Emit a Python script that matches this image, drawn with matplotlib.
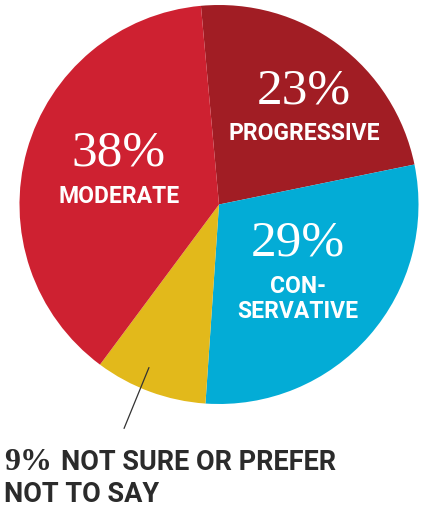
import matplotlib
matplotlib.use("Agg")
import matplotlib.pyplot as plt

# survey shares (clockwise from the top)
groups = ["PROGRESSIVE", "CON-\nSERVATIVE", "NOT SURE OR PREFER\nNOT TO SAY", "MODERATE"]
shares = [23, 29, 9, 38]
colors = ["#A11D24", "#03ACD6", "#E2B91B", "#CE2131"]

W, H = 421, 508
cx, cy, r = 219, 204.5, 200  # pie centre / radius in pixels

fig = plt.figure(figsize=(W / 100, H / 100), dpi=100)
ax = fig.add_axes([(cx - r) / W, 1 - (cy + r) / H, 2 * r / W, 2 * r / H])

ax.pie(shares, colors=colors, startangle=95.2, counterclock=False,
       radius=0.9975, center=(0, 0), wedgeprops=dict(linewidth=0))
# pie() sets its own limits, so fix them afterwards
ax.set_xlim(-1, 1)
ax.set_ylim(-1, 1)
ax.set_aspect("equal")
ax.axis("off")


def px(x, y):
    # pixel position -> data coords of the pie axes
    return (x - cx) / r, (cy - y) / r


serif = "Liberation Serif"
sans = "Roboto"

# labels inside the slices: (x centre, pct baseline, label baseline)
inside = {
    0: (304, 103, 140),
    1: (298, 256, 318),
    3: (119, 166, 203),
}
for i, (x, yb_pct, yb_lab) in inside.items():
    ax.text(*px(x, yb_pct), f"{shares[i]}%", color="white", fontsize=37,
            family=serif, ha="center", va="baseline")
    lines = groups[i].split("\n")
    for k, line in enumerate(lines):
        yb = yb_lab - (len(lines) - 1 - k) * 25
        ax.text(*px(x, yb), line, color="white", fontsize=16.5,
                family=sans, fontweight="bold", ha="center", va="baseline")

# leader line for the small slice
ax.annotate("", xy=px(150, 365), xytext=px(123, 431),
            arrowprops=dict(arrowstyle="-", color="#333333", lw=0.9),
            annotation_clip=False)

dark = "#2b2b2b"
fig.text(4 / W, 1 - 470 / H, f"{shares[2]}%", color=dark, fontsize=23,
         family=serif, fontweight="bold", ha="left", va="baseline")
first, second = groups[2].split("\n")
fig.text(61 / W, 1 - 470 / H, first, color=dark, fontsize=19.5,
         family=sans, fontweight="bold", ha="left", va="baseline")
fig.text(4 / W, 1 - 502 / H, second, color=dark, fontsize=19.5,
         family=sans, fontweight="bold", ha="left", va="baseline")

fig.savefig("out.png", dpi=100)
